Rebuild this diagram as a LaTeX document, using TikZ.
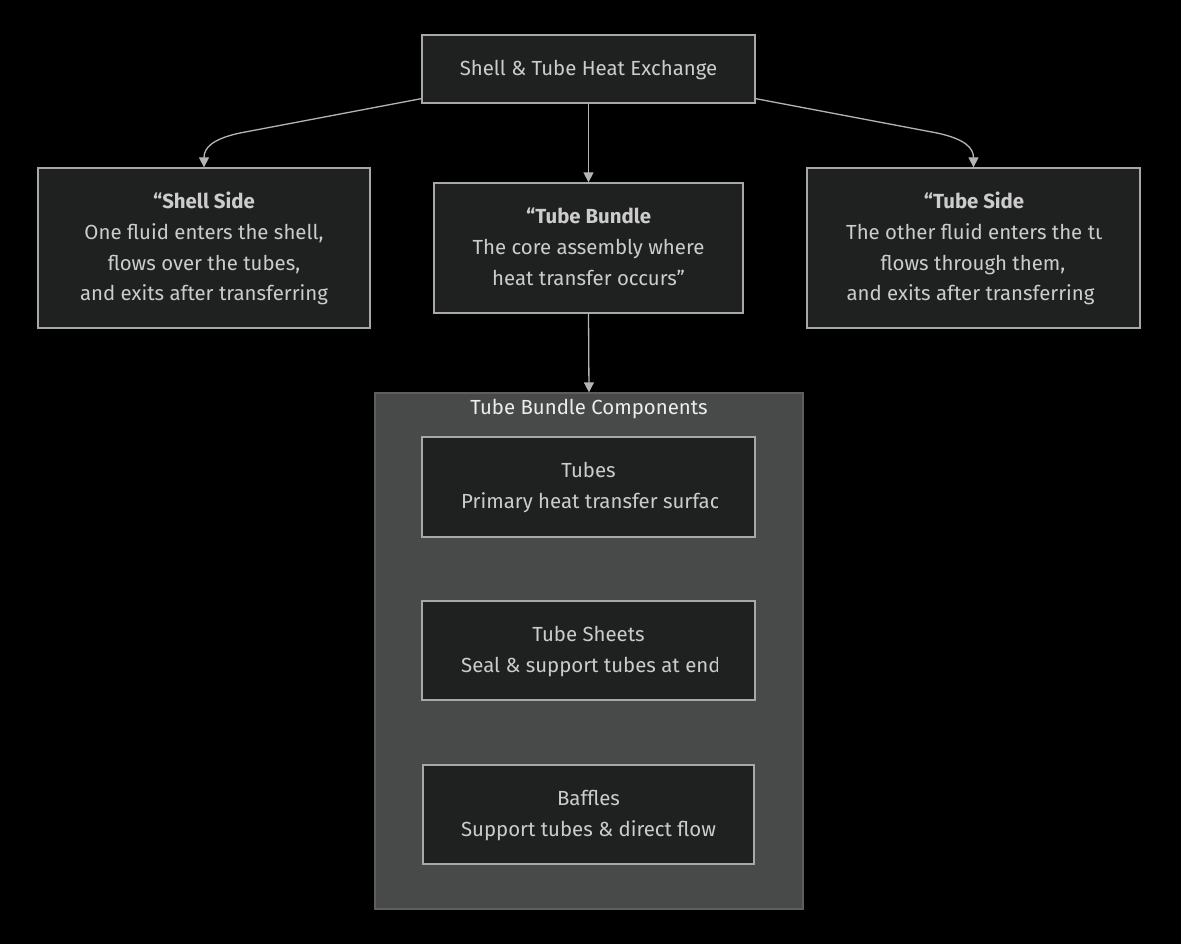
\documentclass[tikz,border=0pt]{standalone}
\usepackage{fontspec}
\setmainfont{Fira Sans}
\usetikzlibrary{arrows.meta,calc}
\definecolor{nodefill}{HTML}{1F2020}
\definecolor{nodeline}{HTML}{A8A8A8}
\definecolor{txt}{HTML}{CCCCCC}
\definecolor{clfill}{HTML}{484949}
\definecolor{clline}{HTML}{5E5E5E}
\definecolor{cltxt}{HTML}{EDEDED}
\definecolor{edgec}{HTML}{B4B4B4}
\newcommand{\fsz}{\fontsize{20.4}{30.7}\selectfont}
\tikzset{
  box/.style={draw=nodeline, fill=nodefill, line width=1.3pt, text=txt, align=center, inner sep=0pt, font=\fsz},
  txtline/.style={text=txt, inner sep=0pt, font=\fsz},
  txtbold/.style={text=txt, inner sep=0pt, font=\fsz\bfseries},
  cluster/.style={draw=clline, fill=clfill, line width=1.3pt, inner sep=0pt},
  edge/.style={draw=edgec, line width=1.3pt, -{Triangle[width=10pt,length=10pt]}},
}
\begin{document}
\begin{tikzpicture}[x=1pt,y=-1pt]
\path[fill=black] (0,0) rectangle (1181,944);
\useasboundingbox (0,0) rectangle (1181,944);

% top node
\node[box, minimum width=333, minimum height=68] (top) at (588.5,69) {};
\node[txtline, anchor=base] (topt) at (588.5,76) {Shell \& Tube Heat Exchange};

% shell side
\node[box, minimum width=332, minimum height=160] (shell) at (204,248) {};
\node[txtbold, anchor=base] (shellt) at (204,208.5) {“Shell Side};
\node[txtline, anchor=base] (shell1) at (204,239.5) {One fluid enters the shell,};
\node[txtline, anchor=base] (shell2) at (204,270.5) {flows over the tubes,};
\node[txtline, anchor=base] (shell3) at (204,300.5) {and exits after transferring};

% tube bundle
\node[box, minimum width=309, minimum height=130] (bundle) at (588.5,248) {};
\node[txtbold, anchor=base] (bundlet) at (588.5,223.5) {“Tube Bundle};
\node[txtline, anchor=base] (bundle1) at (588.5,254.5) {The core assembly where};
\node[txtline, anchor=base] (bundle2) at (588.5,285.5) {heat transfer occurs”};

% tube side
\node[box, minimum width=333, minimum height=160] (tside) at (973.5,248) {};
\node[txtbold, anchor=base] (tsidet) at (974,208.5) {“Tube Side};
\begin{scope}
  \clip (840,215) rectangle (1101,250);
  \node[txtline, anchor=base west] (tside1) at (846,239.5) {The other fluid enters the tu};
\end{scope}
\node[txtline, anchor=base] (tside2) at (973,270.5) {flows through them,};
\node[txtline, anchor=base] (tside3) at (970.5,300.5) {and exits after transferring};

% cluster
\node[cluster, minimum width=428, minimum height=516] (cl) at (589,651) {};
\node[text=cltxt, inner sep=0pt, anchor=base, font=\fsz] (clt) at (589,414.5) {Tube Bundle Components};

% tubes
\node[box, minimum width=333, minimum height=100] (tubes) at (588.5,487) {};
\node[txtline, anchor=base] (tubest) at (588.5,477.5) {Tubes};
\begin{scope}
  \clip (455,480) rectangle (717.5,520);
  \node[txtline, anchor=base west] (tubes1) at (461,508.5) {Primary heat transfer surfac};
\end{scope}

% tube sheets
\node[box, minimum width=333, minimum height=99] (sheets) at (588.5,650.5) {};
\node[txtline, anchor=base] (sheetst) at (588.5,641.5) {Tube Sheets};
\begin{scope}
  \clip (455,645) rectangle (717.5,685);
  \node[txtline, anchor=base west] (sheets1) at (461,672.5) {Seal \& support tubes at end};
\end{scope}

% baffles
\node[box, minimum width=331, minimum height=99] (baffles) at (588.5,814.5) {};
\node[txtline, anchor=base] (bafflest) at (588.5,805.5) {Baffles};
\node[txtline, anchor=base] (baffles1) at (588.5,836.5) {Support tubes \& direct flow};

% edges
\draw[edge] (top.south) -- (bundle.north);
\draw[edge] (bundle.south) -- (cl.north);
\draw[edge] ([yshift=5pt]top.south west) -- (240,133) .. controls (212,139) and (204,148) .. (shell.north);
\draw[edge] ([yshift=5pt]top.south east) -- (937,133) .. controls (965,139) and (973.5,148) .. (tside.north);
\end{tikzpicture}
\end{document}
